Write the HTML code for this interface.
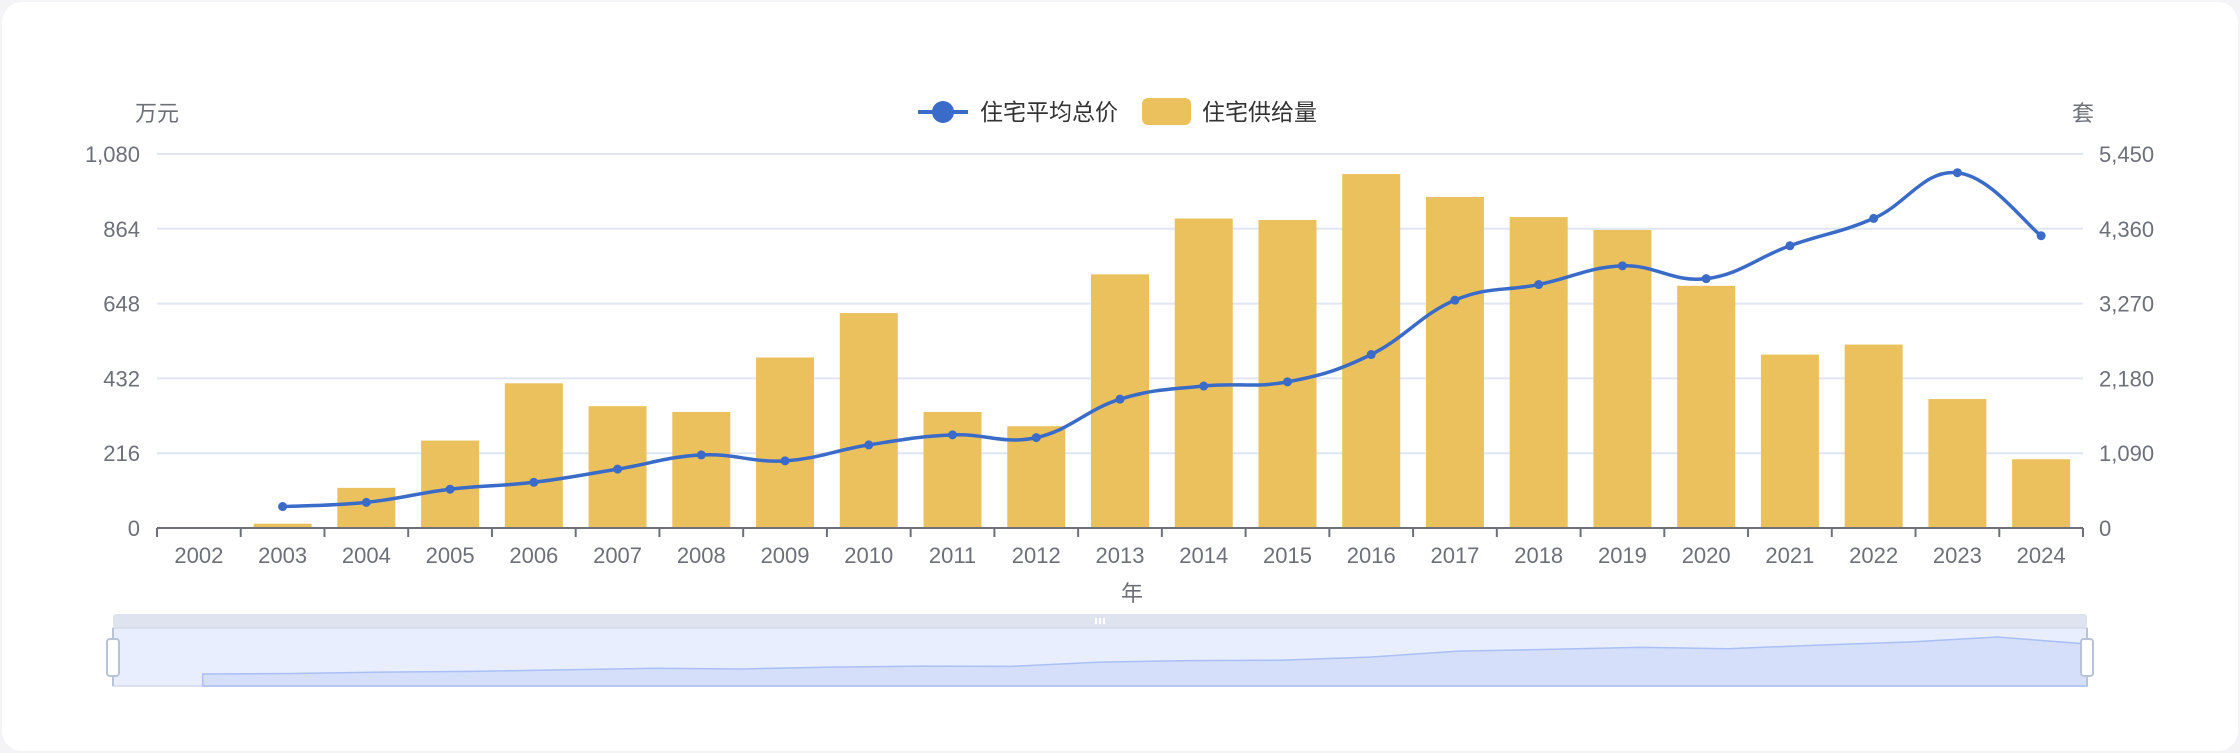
<!DOCTYPE html>
<html><head><meta charset="utf-8"><style>
html,body{margin:0;padding:0;background:#f4f4f6;}
#card{position:absolute;left:2px;top:2px;width:2236px;height:749px;background:#fff;border-radius:20px;}
svg{position:absolute;left:0;top:0;}
text{font-family:"Liberation Sans","Noto Sans CJK SC",sans-serif;}
</style></head><body>
<div id="card"></div>
<svg id="chart" width="2240" height="753"></svg>
<script>
const categories=['2002','2003','2004','2005','2006','2007','2008','2009','2010','2011','2012','2013','2014','2015','2016','2017','2018','2019','2020','2021','2022','2023','2024'];
const supplyValues=[0,63,585,1274,2109,1775,1691,2485,3132,1691,1483,3696,4510,4489,5158,4824,4531,4343,3529,2527,2673,1879,1002];
const priceValues=[null,62,74,112,132,170,211,194,240,269,261,372,410,422,501,658,703,757,720,815,894,1026,844];
const leftTicks=[0,216,432,648,864,1080];
const rightTicks=[0,1090,2180,3270,4360,5450];
const leftTickLabels=['0','216','432','648','864','1,080'];
const rightTickLabels=['0','1,090','2,180','3,270','4,360','5,450'];

const NS='http://www.w3.org/2000/svg';
const svg=document.getElementById('chart');
const L=157,R=2083,T=154,B=528;
const band=(R-L)/categories.length;
const xC=i=>L+band*(i+0.5);
const yL=v=>B-(v/1080)*(B-T);
const yR=v=>B-(v/5450)*(B-T);
function mk(tag,attrs,parent){const e=document.createElementNS(NS,tag);for(const k in attrs)e.setAttribute(k,attrs[k]);(parent||svg).appendChild(e);return e;}

leftTicks.forEach((v,i)=>{
  const g=mk('line',{x1:L,x2:R,y1:yL(v),y2:yL(v),stroke:'#e0e6f1','stroke-width':2});
  
  
  const t=mk('text',{x:140,y:yL(v)+8,'text-anchor':'end','font-size':22,fill:'#6e7079'});
  t.textContent=leftTickLabels[i];
  
  
});
rightTicks.forEach((v,i)=>{
  const t=mk('text',{x:2099,y:yR(v)+8,'text-anchor':'start','font-size':22,fill:'#6e7079'});
  t.textContent=rightTickLabels[i];
  
  
});
supplyValues.forEach((v,i)=>{
  const w=58;
  const r=mk('rect',{x:xC(i)-w/2,y:yR(v),width:w,height:B-yR(v),fill:'#ebc15e'});
  
  
});
const ax=mk('line',{x1:L,x2:R,y1:B,y2:B,stroke:'#6e7079','stroke-width':2});


for(let i=0;i<=categories.length;i++){
  const tk=mk('line',{x1:L+band*i,x2:L+band*i,y1:B,y2:B+9,stroke:'#6e7079','stroke-width':2});
  
  
}
categories.forEach((c,i)=>{
  const t=mk('text',{x:xC(i),y:563,'text-anchor':'middle','font-size':22,fill:'#6e7079'});
  t.textContent=c;
  
  
});
function smoothPath(pts){
  let d='M'+pts[0][0]+','+pts[0][1];
  for(let i=0;i<pts.length-1;i++){
    const p0=pts[i-1]||pts[i],p1=pts[i],p2=pts[i+1],p3=pts[i+2]||p2;
    const s=0.2;
    const c1=[p1[0]+(p2[0]-p0[0])*s,p1[1]+(p2[1]-p0[1])*s];
    const c2=[p2[0]-(p3[0]-p1[0])*s,p2[1]-(p3[1]-p1[1])*s];
    d+=' C'+c1[0]+','+c1[1]+' '+c2[0]+','+c2[1]+' '+p2[0]+','+p2[1];
  }
  return d;
}
const pts=[];
priceValues.forEach((v,i)=>{if(v!==null)pts.push([xC(i),yL(v)]);});
const ln=mk('path',{d:smoothPath(pts),fill:'none',stroke:'#3a6bc8','stroke-width':3.5});


pts.forEach(p=>{
  const c=mk('circle',{cx:p[0],cy:p[1],r:4.5,fill:'#3a6bc8'});
  
  
});
const n1=mk('text',{x:157,y:121,'text-anchor':'middle','font-size':22,fill:'#6e7079'});n1.textContent='万元';

const n2=mk('text',{x:2083,y:121,'text-anchor':'middle','font-size':22,fill:'#6e7079'});n2.textContent='套';

const n3=mk('text',{x:1132,y:601,'text-anchor':'middle','font-size':22,fill:'#6e7079'});n3.textContent='年';

const lg=mk('g',{});
const e1=mk('g',{},lg);
mk('line',{x1:918,x2:968,y1:112,y2:112,stroke:'#3a6bc8','stroke-width':4},e1);
mk('circle',{cx:943,cy:112,r:11,fill:'#3a6bc8'},e1);
const lt1=mk('text',{x:980,y:120,'font-size':23,fill:'#333'},e1);lt1.textContent='住宅平均总价';
const e2=mk('g',{},lg);
mk('rect',{x:1142,y:98,width:49,height:27,rx:6,fill:'#ebc15e'},e2);
const lt2=mk('text',{x:1202,y:120,'font-size':23,fill:'#333'},e2);lt2.textContent='住宅供给量';
const dz=mk('g',{});
const zL=113,zR=2087,zT=628,zB=686;
mk('rect',{x:zL,y:614,width:zR-zL,height:14,rx:3,fill:'#dee3ef'},dz);
mk('rect',{x:zL,y:zT,width:zR-zL,height:zB-zT,fill:'#e8eefd',stroke:'#d2d9e8','stroke-width':1.5},dz);
const zx=i=>zL+(zR-zL)*i/(categories.length-1);
const zy=v=>zB-(9.6+v*0.0384);
let sd='',last=null,started=false;
priceValues.forEach((v,i)=>{if(v===null)return;const x=zx(i),y=zy(v);if(!started){started=true;sd+='M'+x+','+zB+' L'+x+','+y;}else sd+=' L'+x+','+y;last=x;});
sd+=' L'+last+','+zB+' Z';
const sh=mk('path',{d:sd,fill:'#d5dffa',stroke:'#a9bff5','stroke-width':1.5},dz);

[zL,zR].forEach(x=>{
  const h=mk('g',{},dz);
  
  
  mk('line',{x1:x,x2:x,y1:zT,y2:zB,stroke:'#b9c3d8','stroke-width':2},h);
  mk('rect',{x:x-6,y:639,width:12,height:37,rx:3,fill:'#fff',stroke:'#b9c3d8','stroke-width':2},h);
});
[-4,0,4].forEach(d=>mk('rect',{x:1100+d-1,y:618,width:2,height:6,fill:'#fff'},dz));
</script>
</body></html>
